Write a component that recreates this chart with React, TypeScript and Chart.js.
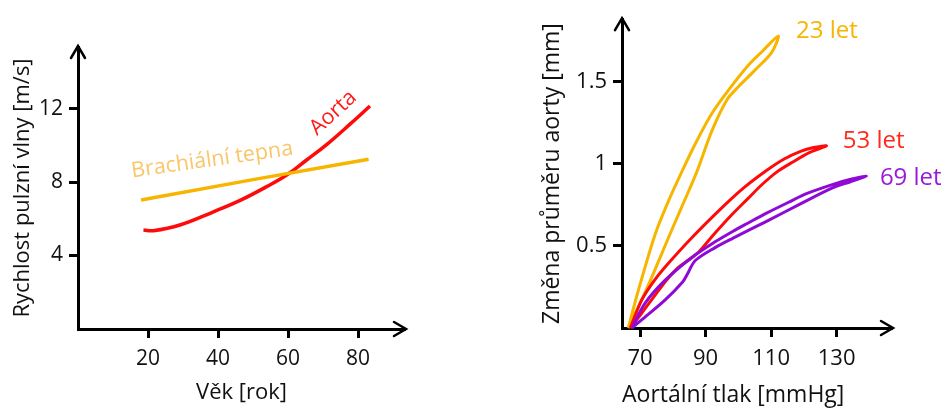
import React, { useEffect, useRef } from "react";
import { Chart, registerables } from "chart.js";

Chart.register(...registerables);

const FONT = "'Open Sans', 'DejaVu Sans', sans-serif";

// ---- Left panel: pulse wave velocity vs. age ----
const ageAorta = [18.7, 21.5, 29.1, 38.7, 46.3, 53.9, 59.6, 65.3, 71.1, 77.7, 83.4];
const pwvAorta = [5.39, 5.35, 5.66, 6.38, 7.0, 7.75, 8.38, 9.2, 10.05, 11.15, 12.14];
const ageBrachial = [18, 50, 83];
const pwvBrachial = [7.02, 8.13, 9.24];
const leftXTicks = [20, 40, 60, 80];
const leftYTicks = [4, 8, 12];
const leftLabels = ["Brachiální tepna", "Aorta"];
const leftLabelAge = [38.3, 72.9];
const leftLabelPwv = [9.2, 11.76];

// ---- Right panel: aortic diameter change vs. pressure (loops) ----
const pressure23 = [66.4, 69.5, 74.6, 78.6, 82.7, 86.8, 92, 97, 103, 107.5, 112.2, 110.2, 105, 100, 96.5, 91.9, 87.3, 83, 79.1, 72.5, 66.4];
const diameter23 = [0, 0.23, 0.57, 0.77, 0.95, 1.12, 1.31, 1.45, 1.6, 1.69, 1.78, 1.68, 1.57, 1.47, 1.39, 1.2, 0.95, 0.75, 0.57, 0.26, 0];
const pressure53 = [67, 70.5, 74, 77.6, 85.8, 95.9, 102, 108.6, 114, 118.8, 123, 126.9, 121.8, 116.5, 111.7, 107, 103, 97.5, 92.5, 88, 84.5, 81.7, 78, 74.6, 70.5, 67];
const diameter53 = [0, 0.17, 0.28, 0.37, 0.55, 0.75, 0.86, 0.96, 1.03, 1.075, 1.1, 1.11, 1.07, 1.01, 0.95, 0.87, 0.79, 0.68, 0.57, 0.465, 0.41, 0.37, 0.29, 0.2, 0.09, 0];
const pressure69 = [67.5, 71.5, 77.6, 85.8, 92.9, 98.4, 103, 108.6, 115.2, 121, 128.9, 134, 139.1, 134, 128.9, 118.8, 108.6, 98.4, 92.9, 86.8, 84.5, 83, 77.6, 70.5, 67.5];
const diameter69 = [0, 0.15, 0.29, 0.43, 0.525, 0.59, 0.64, 0.7, 0.765, 0.82, 0.875, 0.905, 0.925, 0.89, 0.855, 0.755, 0.65, 0.548, 0.49, 0.41, 0.33, 0.28, 0.17, 0.05, 0];
const rightXTicks = [70, 90, 110, 130];
const rightYTicks = [0.5, 1, 1.5];
const rightLabels = ["23 let", "53 let", "69 let"];
const rightLabelPressure = [117.6, 131.9, 143.2];
const rightLabelDiameter = [1.81, 1.14, 0.914];

const YELLOW = "#F7B500";
const RED = "#FF0A0A";
const PURPLE = "#8F0AD6";

const toPoints = (xs: number[], ys: number[]) => xs.map((x, i) => ({ x, y: ys[i] }));

const arrowPlugin = {
  id: "axisArrows",
  afterDraw(chart: any) {
    const { ctx, chartArea } = chart;
    const { left, right, top, bottom } = chartArea;
    ctx.save();
    ctx.strokeStyle = "#000";
    ctx.lineWidth = 2.5;
    ctx.lineCap = "round";
    ctx.lineJoin = "miter";
    ctx.beginPath();
    ctx.moveTo(right - 11, bottom - 7);
    ctx.lineTo(right + 1, bottom);
    ctx.lineTo(right - 11, bottom + 7);
    ctx.stroke();
    ctx.beginPath();
    ctx.moveTo(left - 7, top + 11);
    ctx.lineTo(left, top - 1);
    ctx.lineTo(left + 7, top + 11);
    ctx.stroke();
    ctx.restore();
  },
};

function makeLabelPlugin(
  texts: string[],
  xs: number[],
  ys: number[],
  colors: string[],
  rotations: number[],
  aligns: CanvasTextAlign[],
  size: number
) {
  return {
    id: "seriesLabels",
    afterDatasetsDraw(chart: any) {
      const { ctx, scales } = chart;
      ctx.save();
      texts.forEach((t, i) => {
        const px = scales.x.getPixelForValue(xs[i]);
        const py = scales.y.getPixelForValue(ys[i]);
        ctx.save();
        ctx.translate(px, py);
        ctx.rotate((rotations[i] * Math.PI) / 180);
        ctx.font = `${size}px ${FONT}`;
        ctx.fillStyle = colors[i];
        ctx.textAlign = aligns[i];
        ctx.textBaseline = "middle";
        ctx.fillText(t, 0, 0);
        ctx.restore();
      });
      ctx.restore();
    },
  };
}

function axis(
  min: number,
  max: number,
  ticks: number[],
  fitSize: number,
  horizontal: boolean,
  title: string,
  titlePadding: any,
  tickPadding: number,
  titleAlign: "start" | "center" | "end",
  tickSize: number,
  titleSize: number
) {
  return {
    type: "linear",
    min,
    max,
    afterFit: (s: any) => {
      if (horizontal) s.height = fitSize;
      else s.width = fitSize;
    },
    afterBuildTicks: (s: any) => {
      s.ticks = ticks.map((v) => ({ value: v }));
    },
    grid: {
      display: true,
      drawOnChartArea: false,
      drawTicks: true,
      tickLength: 9,
      tickWidth: 3,
      tickColor: "#000",
    },
    border: { display: true, width: 3, color: "#000" },
    ticks: {
      autoSkip: false,
      maxRotation: 0,
      padding: tickPadding,
      color: "#111",
      font: { family: FONT, size: tickSize },
      callback: (v: number) => String(v),
    },
    title: {
      display: true,
      text: title,
      color: "#111",
      align: titleAlign,
      font: { family: FONT, size: titleSize },
      padding: titlePadding,
    },
  };
}

export default function App() {
  const leftRef = useRef<HTMLCanvasElement>(null);
  const rightRef = useRef<HTMLCanvasElement>(null);

  useEffect(() => {
    const left = new Chart(leftRef.current as HTMLCanvasElement, {
      type: "scatter",
      data: {
        datasets: [
          {
            data: toPoints(ageBrachial, pwvBrachial),
            showLine: true,
            borderColor: YELLOW,
            borderWidth: 3.5,
            pointRadius: 0,
            tension: 0,
            clip: false,
          },
          {
            data: toPoints(ageAorta, pwvAorta),
            showLine: true,
            borderColor: RED,
            borderWidth: 3.5,
            pointRadius: 0,
            tension: 0.4,
            clip: false,
          },
        ],
      },
      options: {
        responsive: false,
        animation: false,
        events: [],
        layout: { padding: { left: 0, top: 47, right: 65, bottom: 0 } },
        plugins: { legend: { display: false }, tooltip: { enabled: false } },
        scales: {
          x: axis(0, 93.4, leftXTicks, 80, true, "Věk [rok]", { top: 0, bottom: 3 }, 8, "center", 21, 22),
          y: axis(0, 15.35, leftYTicks, 78, false, "Rychlost pulzní vlny [m/s]", { top: 10, bottom: 0 }, 6, "center", 21, 22),
        },
      } as any,
      plugins: [
        arrowPlugin,
        makeLabelPlugin(leftLabels, leftLabelAge, leftLabelPwv, ["#F9C66A", "#FF1A1A"], [-8, -42], ["center", "center"], 21.5),
      ],
    } as any);

    const loopStyle = (color: string) => ({
      showLine: true,
      borderColor: color,
      borderWidth: 3,
      pointRadius: 0,
      tension: 0.3,
      clip: false,
    });

    const right = new Chart(rightRef.current as HTMLCanvasElement, {
      type: "scatter",
      data: {
        datasets: [
          { data: toPoints(pressure69, diameter69), ...loopStyle(PURPLE) },
          { data: toPoints(pressure53, diameter53), ...loopStyle(RED) },
          { data: toPoints(pressure23, diameter23), ...loopStyle(YELLOW) },
        ],
      },
      options: {
        responsive: false,
        animation: false,
        events: [],
        layout: { padding: { left: 0, top: 13, right: 55, bottom: 0 } },
        plugins: { legend: { display: false }, tooltip: { enabled: false } },
        scales: {
          x: axis(64.5, 146.9, rightXTicks, 81, true, "Aortální tlak [mmHg]", { top: 0, bottom: 0 }, 9, "start", 22, 23),
          y: axis(0, 1.882, rightYTicks, 152, false, "Změna průměru aorty [mm]", { top: 69, bottom: 0 }, 6, "center", 22, 23),
        },
      } as any,
      plugins: [
        arrowPlugin,
        makeLabelPlugin(
          rightLabels,
          rightLabelPressure,
          rightLabelDiameter,
          [YELLOW, "#FF2A1A", "#9A1AD8"],
          [0, 0, 0],
          ["left", "left", "left"],
          24
        ),
      ],
    } as any);

    return () => {
      left.destroy();
      right.destroy();
    };
  }, []);

  return (
    <div style={{ position: "absolute", left: 0, top: 0, width: 947, height: 409, background: "#fff", overflow: "hidden" }}>
      <canvas ref={leftRef} width={470} height={409} style={{ position: "absolute", left: 0, top: 0 }} />
      <canvas ref={rightRef} width={477} height={409} style={{ position: "absolute", left: 470, top: 0 }} />
    </div>
  );
}
